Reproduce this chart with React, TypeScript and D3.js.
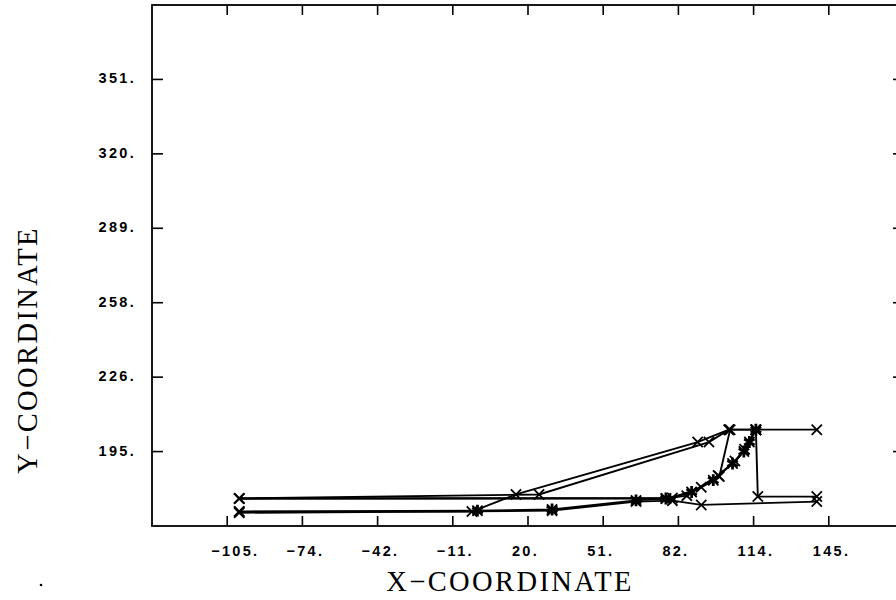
import React, { useRef, useEffect } from "react"
import * as d3 from "d3"

const W = 896
const H = 600

// axis ticks, step 31.25 as printed by the plotter
const xTicks = [-105, -73.75, -42.5, -11.25, 20, 51.25, 82.5, 113.75, 145]
const xTickLabels = ["−105.", "−74.", "−42.", "−11.", "20.", "51.", "82.", "114.", "145."]
const yTicks = [195, 226.25, 257.5, 288.75, 320, 351.25]
const yTickLabels = ["195.", "226.", "258.", "289.", "320.", "351."]

// trajectories, [x, y]
const trackA: [number, number][] = [[-100, 175.3], [24.6, 177.0], [95.2, 199.0], [103.5, 204.2], [114.7, 204.2], [140, 204.2]]
const trackB: [number, number][] = [[-100, 169.8], [-3.3, 169.8], [15, 177.0], [90.5, 199.0], [103.5, 204.2]]
const trackC: [number, number][] = [[-100, 175.3], [77.3, 175.3], [86, 176.5], [99, 185], [106, 191], [110, 196], [114.7, 204.2], [115.5, 176.1], [140, 176.1]]
const trackD: [number, number][] = [[-100, 169.8], [-1, 170.2], [30, 170.7], [64.9, 174.5], [77.3, 175.3], [88, 178], [97, 183], [105, 190], [109.7, 195], [112, 199], [114.7, 204.2]]
const trackE: [number, number][] = [[-100, 169.3], [30, 170.2], [64.9, 174.0], [80, 174.4], [92, 172.6], [140, 174.0]]
const trackF: [number, number][] = [[-100, 175.3], [80, 175.5], [92, 180], [99.5, 184.5], [104, 204.2], [114.7, 204.2]]
const tracks = [trackA, trackB, trackC, trackD, trackE, trackF]

const App = () => {
  const ref = useRef<SVGSVGElement>(null)

  useEffect(() => {
    const svg = d3.select(ref.current)
    svg.selectAll("*").remove()

    const x = d3.scaleLinear().domain([-136.25, 176.25]).range([152, 904])
    const y = d3.scaleLinear().domain([163.75, 382.5]).range([526, 5])
    const [x0, x1] = x.range()
    const [y0, y1] = y.range()

    // frame
    svg.append("rect")
      .attr("x", x0).attr("y", y1)
      .attr("width", x1 - x0).attr("height", y0 - y1)
      .attr("fill", "none").attr("stroke", "#000").attr("stroke-width", 1.8)

    const g = svg.append("g").attr("stroke", "#000").attr("stroke-width", 1.6)
    xTicks.forEach(t => {
      g.append("line").attr("x1", x(t)).attr("x2", x(t)).attr("y1", y0).attr("y2", y0 - 10)
      g.append("line").attr("x1", x(t)).attr("x2", x(t)).attr("y1", y1).attr("y2", y1 + 10)
    })
    yTicks.forEach(t => {
      g.append("line").attr("x1", x0).attr("x2", x0 + 11).attr("y1", y(t)).attr("y2", y(t))
      g.append("line").attr("x1", x1).attr("x2", x1 - 11).attr("y1", y(t)).attr("y2", y(t))
    })

    const tickFont = "'Liberation Sans', Arial, sans-serif"
    svg.append("g").selectAll("text")
      .data(xTicks)
      .enter()
      .append("text")
        .attr("x", d => x(d) - 16)
        .attr("y", 556)
        .attr("font-family", tickFont)
        .attr("font-size", 14.5)
        .attr("font-weight", "bold")
        .attr("letter-spacing", 2.3)
        .attr("fill", "#000")
        .text((d, i) => xTickLabels[i])

    svg.append("g").selectAll("text")
      .data(yTicks)
      .enter()
      .append("text")
        .attr("x", 136)
        .attr("y", d => y(d) + 4)
        .attr("text-anchor", "end")
        .attr("font-family", tickFont)
        .attr("font-size", 14.5)
        .attr("font-weight", "bold")
        .attr("letter-spacing", 2.3)
        .attr("fill", "#000")
        .text((d, i) => yTickLabels[i])

    // axis titles
    svg.append("text")
      .attr("x", 510).attr("y", 591)
      .attr("text-anchor", "middle")
      .attr("font-family", "'Liberation Serif', 'Times New Roman', serif")
      .attr("font-size", 28.5)
      .attr("letter-spacing", 2.4)
      .text("X−COORDINATE")
    svg.append("text")
      .attr("transform", "translate(37,350) rotate(-90)")
      .attr("text-anchor", "middle")
      .attr("font-family", "'Liberation Serif', 'Times New Roman', serif")
      .attr("font-size", 28.5)
      .attr("letter-spacing", 2.4)
      .text("Y−COORDINATE")

    svg.append("circle").attr("cx", 41).attr("cy", 585).attr("r", 1.3).attr("fill", "#000")

    // trajectories
    const line = d3.line<[number, number]>().x(d => x(d[0])).y(d => y(d[1]))
    svg.append("g").selectAll("path")
      .data(tracks)
      .enter()
      .append("path")
        .attr("d", d => line(d))
        .attr("fill", "none")
        .attr("stroke", "#000")
        .attr("stroke-width", 1.9)

    const mark = d3.symbol().type(d3.symbolTimes).size(70)
    svg.append("g").selectAll("g")
      .data(tracks)
      .enter()
      .append("g")
      .selectAll("path")
      .data(d => d)
      .enter()
      .append("path")
        .attr("d", mark)
        .attr("transform", d => `translate(${x(d[0])},${y(d[1])})`)
        .attr("fill", "none")
        .attr("stroke", "#000")
        .attr("stroke-width", 1.8)

    // dense clusters along the lower track print as blobs
    const blob = d3.symbol().type(d3.symbolAsterisk).size(100)
    svg.append("g").selectAll("path")
      .data(trackD.slice(1))
      .enter()
      .append("path")
        .attr("d", blob)
        .attr("transform", d => `translate(${x(d[0])},${y(d[1])})`)
        .attr("fill", "none")
        .attr("stroke", "#000")
        .attr("stroke-width", 2.8)
  }, [])

  return (
    <svg ref={ref} width={W} height={H} style={{ position: "absolute", left: 0, top: 0, background: "#fff" }} />
  )
}

export default App
